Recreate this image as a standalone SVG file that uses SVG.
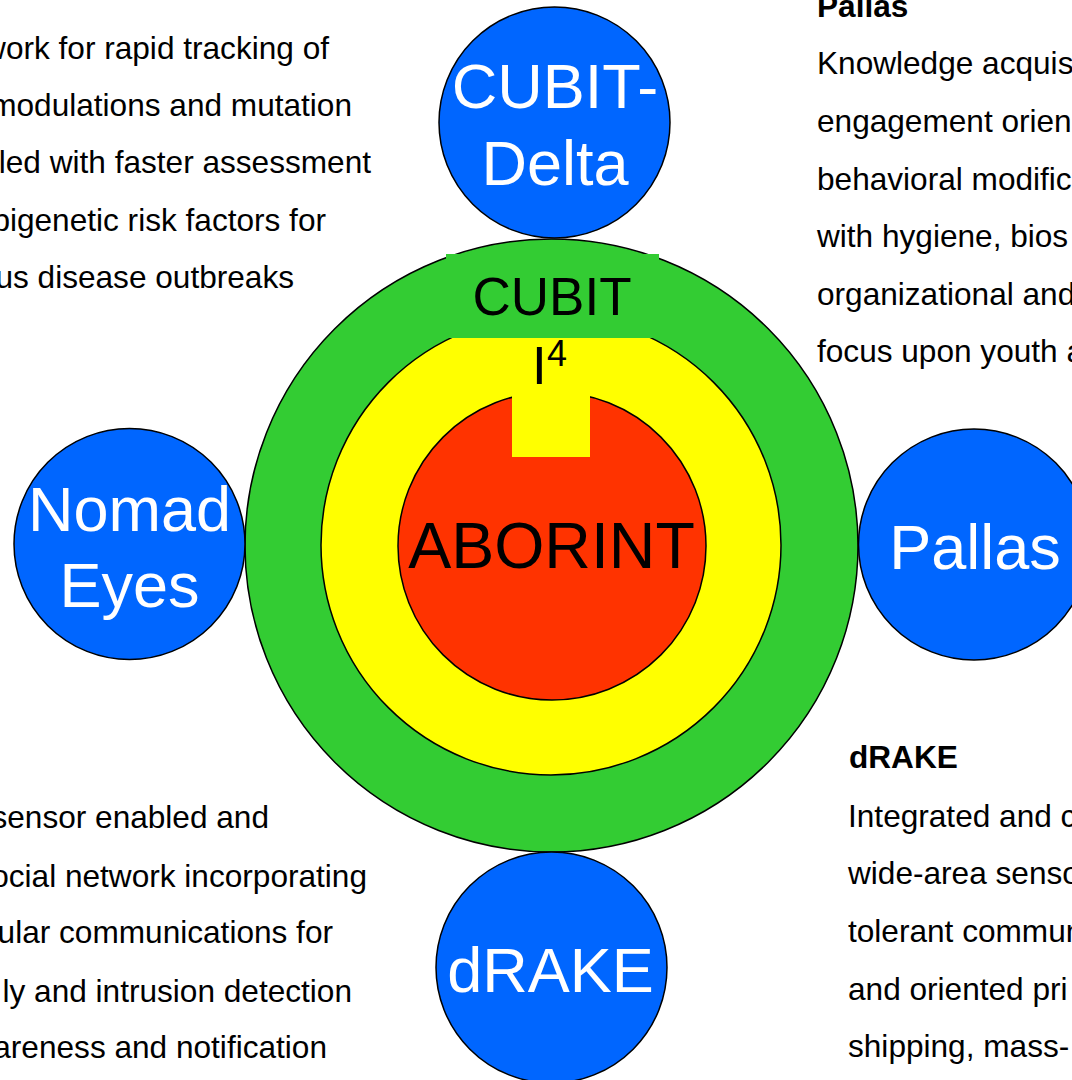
<svg xmlns="http://www.w3.org/2000/svg" width="1072" height="1080" viewBox="0 0 1072 1080">
  <style>
    text { font-family: "Liberation Sans", Arial, Helvetica, sans-serif; }
    .blue { fill: #0066FF; stroke: #000; stroke-width: 1.5; }
    .lbl { fill: #FFFFFF; font-size: 63px; text-anchor: middle; }
    .core { fill: #000; text-anchor: middle; }
    .body { fill: #000; font-size: 31.6px; }
    .end { text-anchor: end; }
    .title { font-weight: bold; }
  </style>
  <rect width="1072" height="1080" fill="#FFFFFF"/>

  <g id="cubit-i4">
    <circle cx="551.5" cy="545.5" r="306.5" fill="#33CC33" stroke="#000" stroke-width="1.5"/>
    <circle cx="551" cy="545" r="230" fill="#FFFF00" stroke="#000" stroke-width="1.5"/>
    <circle cx="552" cy="546" r="154" fill="#FF3300" stroke="#000" stroke-width="1.5"/>
    <rect x="446" y="254" width="213" height="84" fill="#33CC33"/>
    <rect x="512" y="338" width="78" height="119" fill="#FFFF00"/>
    <text class="core" x="552" y="315" font-size="53">CUBIT</text>
    <text x="532" y="384" font-size="53" fill="#000">I</text>
    <text x="547" y="366" font-size="36" fill="#000">4</text>
  </g>

  <g id="aborint">
    <text class="core" x="551.5" y="568" font-size="64.5">ABORINT</text>
  </g>

  <g id="cubit-delta">
    <circle class="blue" cx="554.5" cy="122.5" r="115.5"/>
    <text class="lbl" x="555" y="108" font-size="64">CUBIT-</text>
    <text class="lbl" x="555" y="185">Delta</text>
  </g>

  <g id="nomad-eyes">
    <circle class="blue" cx="129.5" cy="544" r="115.5"/>
    <text class="lbl" x="129.5" y="531">Nomad</text>
    <text class="lbl" x="129.5" y="607">Eyes</text>
  </g>

  <g id="pallas">
    <circle class="blue" cx="974" cy="544.5" r="115.5"/>
    <text class="lbl" x="975" y="569">Pallas</text>
  </g>

  <g id="drake">
    <circle class="blue" cx="551.5" cy="967.5" r="115.5"/>
    <text class="lbl" x="550.5" y="992">dRAKE</text>
  </g>

  <g id="text-cubit-delta">
    <text class="body end" x="329" y="59">work for rapid tracking of</text>
    <text class="body end" x="352" y="116">modulations and mutation</text>
    <text class="body end" x="371" y="173">led with faster assessment</text>
    <text class="body end" x="326" y="231">pigenetic risk factors for</text>
    <text class="body end" x="294" y="288">us disease outbreaks</text>
  </g>

  <g id="text-pallas">
    <text class="body title" x="817" y="17">Pallas</text>
    <text class="body" x="817" y="74">Knowledge acquis</text>
    <text class="body" x="817" y="132">engagement orien</text>
    <text class="body" x="817" y="190">behavioral modific</text>
    <text class="body" x="817" y="247">with hygiene, bios</text>
    <text class="body" x="817" y="305">organizational and</text>
    <text class="body" x="817" y="362">focus upon youth a</text>
  </g>

  <g id="text-nomad-eyes">
    <text class="body end" x="269" y="828">sensor enabled and</text>
    <text class="body end" x="367" y="887">social network incorporating</text>
    <text class="body end" x="333" y="943">ular communications for</text>
    <text class="body end" x="352" y="1002">ly and intrusion detection</text>
    <text class="body end" x="327" y="1058">areness and notification</text>
  </g>

  <g id="text-drake">
    <text class="body title" x="849" y="768">dRAKE</text>
    <text class="body" x="848" y="827">Integrated and c</text>
    <text class="body" x="848" y="884">wide-area senso</text>
    <text class="body" x="848" y="942">tolerant commun</text>
    <text class="body" x="848" y="1000">and oriented pri</text>
    <text class="body" x="848" y="1057">shipping, mass-</text>
  </g>
</svg>
